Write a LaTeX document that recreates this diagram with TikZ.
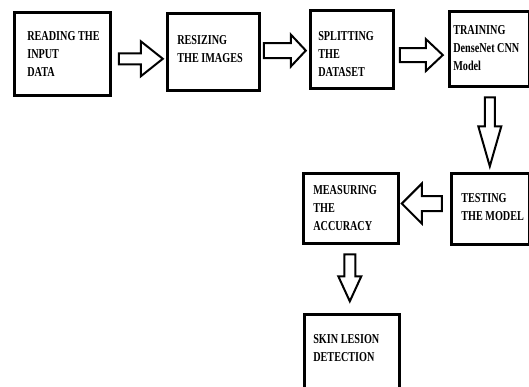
\documentclass[tikz,border=0pt]{standalone}
\usepackage{fontspec}
\setmainfont{Liberation Serif}[FakeStretch=0.75]
\usetikzlibrary{calc}
% width, height, left pad, top pad, lines
\newcommand*{\stagetext}[5]{%
  \parbox[c][#2][t]{#1}{\vspace*{#4}\hspace*{#3}\begin{tabular}[t]{@{}l@{}}#5\end{tabular}}}
% centre, angle, length, head length, shaft width, head width
\newcommand*{\fatarrow}[6]{%
  \draw [flow, shift={(#1)}, rotate=#2]
    (-#3/2,-#5/2) -- (#3/2-#4,-#5/2) -- (#3/2-#4,-#6/2) -- (#3/2,0)
    -- (#3/2-#4,#6/2) -- (#3/2-#4,#5/2) -- (-#3/2,#5/2) -- cycle;}

\begin{document}
\begin{tikzpicture}[x=1pt, y=-1pt,
    stage/.style={draw, line width=2.6pt, inner sep=0pt, anchor=north west, font=\fontsize{13.6}{18}\selectfont\bfseries},
    flow/.style={draw, line width=2pt, line join=miter}]
    \useasboundingbox (0,0) rectangle (529,387);
    \clip (0,0) rectangle (529,387);
        \node [stage] (read)    at ( 13, 11) {\stagetext{96pt}{83pt}{13pt}{16pt}{READING THE\\INPUT\\DATA}};
        \node [stage] (resize)  at (166, 12) {\stagetext{92pt}{77pt}{10pt}{18.5pt}{RESIZING\\THE IMAGES}};
        \node [stage] (split)   at (309,  9) {\stagetext{83pt}{78pt}{8pt}{17.5pt}{SPLITTING\\THE\\DATASET}};
        \node [stage] (train)   at (448, 10) {\stagetext{80pt}{75pt}{4pt}{10.5pt}{TRAINING\\DenseNet CNN\\Model}};
        \node [stage] (test)    at (450,172) {\stagetext{78pt}{71pt}{10pt}{16.5pt}{TESTING\\THE MODEL}};
        \node [stage] (measure) at (302,172) {\stagetext{95pt}{70pt}{10pt}{8.5pt}{MEASURING\\THE\\ACCURACY}};
        \node [stage] (skin)    at (303,313) {\stagetext{95pt}{82pt}{9pt}{16.5pt}{SKIN LESION\\DETECTION}};
        \fatarrow{$(read.east)!0.5!(resize.west)+(2,6)$}{0}{44}{22}{11}{35}
        \fatarrow{$(resize.east)!0.5!(split.west)$}{0}{42}{15}{15}{32}
        \fatarrow{$(split.east)!0.5!(train.west)+(0,6)$}{0}{43}{17}{14}{32}
        \fatarrow{$(train.south)!0.5!(test.north)+(0,2)$}{270}{69}{40}{10}{23}
        \fatarrow{$(test.west)!0.5!(measure.east)+(-3,-5)$}{180}{40}{20}{15}{40}
        \fatarrow{$(measure.south)!0.5!(skin.north)+(-1.5,-1)$}{270}{47}{25}{11}{23}
        %\draw [red] (read.east) -- (resize.west);
\end{tikzpicture}
\end{document}
